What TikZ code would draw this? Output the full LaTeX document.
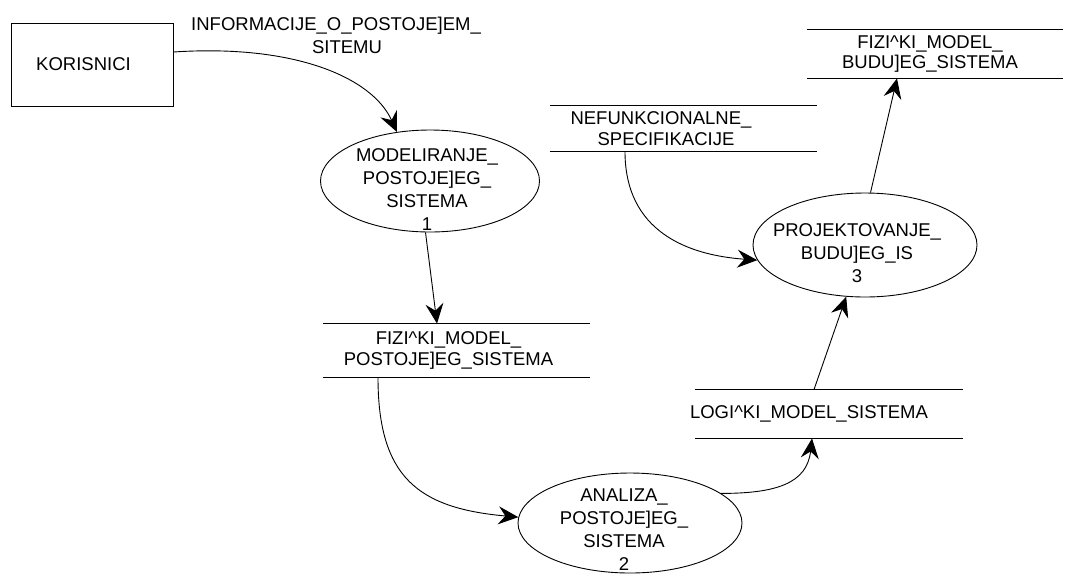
\documentclass[tikz,border=0pt]{standalone}
\usepackage{fontspec}
\setmainfont{Liberation Sans}
\usetikzlibrary{shapes.geometric,arrows.meta}
\newcommand{\dfdfont}{\fontsize{18.5}{23}\selectfont}
\newcommand{\storefont}{\fontsize{18.5}{20.5}\selectfont}
\tikzset{
  extern/.style={draw,rectangle,minimum width=162pt,minimum height=83pt,inner sep=0pt,font=\dfdfont},
  process/.style={draw,ellipse,minimum width=222pt,minimum height=102pt,inner sep=0pt},
  proctext/.style={align=center,font=\dfdfont,inner sep=0pt},
  store/.style={rectangle,minimum width=267pt,minimum height=48pt,inner sep=0pt,align=center,font=\storefont,
    append after command={(\tikzlastnode.north west) edge (\tikzlastnode.north east)
      (\tikzlastnode.south west) edge (\tikzlastnode.south east)}},
  flow/.style={-{Stealth[length=20pt,width=18pt,inset=7pt]}}
}

\begin{document}
\begin{tikzpicture}[x=1pt,y=-1pt,line width=0.9pt]
\useasboundingbox (0,0) rectangle (1065,574);
% external entity
\node[extern] (kor) at (92,64.5) {\hspace*{-17pt}KORISNICI};
\node[proctext] (infolbl) at (336,35) {INFORMACIJE\_O\_POSTOJE]EM\_\\\hspace*{22pt}SITEMU};
% processes
\node[process,minimum width=219pt] (p1) at (430,181) {};
\node[proctext] (p1t) at ([xshift=-3pt,yshift=-8.5pt]p1.center) {MODELIRANJE\_\\POSTOJE]EG\_\\SISTEMA\\1};
\node[process,minimum width=224pt,minimum height=100pt] (p2) at (630,523) {};
\node[proctext] (p2t) at ([xshift=-6pt,yshift=-7pt]p2.center) {ANALIZA\_\\POSTOJE]EG\_\\SISTEMA\\2};
\node[process,minimum width=224pt,minimum height=104pt] (p3) at (865,245) {};
\node[proctext] (p3t) at ([xshift=-8pt,yshift=-8.5pt]p3.center) {PROJEKTOVANJE\_\\BUDU]EG\_IS\\3};
% data stores
\node[store,minimum height=53pt] (s1) at (456.5,350.5) {\hspace*{-16pt}FIZI\textasciicircum KI\_MODEL\_\\\hspace*{-16pt}POSTOJE]EG\_SISTEMA};
\node[store,minimum height=45pt] (s2) at (683.5,128.5) {\hspace*{-45pt}NEFUNKCIONALNE\_\\\hspace*{-35pt}SPECIFIKACIJE};
\node[store,minimum width=256pt] (s3) at (935,54) {\hspace*{-10pt}FIZI\textasciicircum KI\_MODEL\_\\\hspace*{-10pt}BUDU]EG\_SISTEMA};
\node[store,minimum width=268pt] (s4) at (829,414) {\hspace*{-40pt}LOGI\textasciicircum KI\_MODEL\_SISTEMA};
% flows
\draw[flow] ([yshift=12.5pt]kor.east) .. controls +(120,-8) and +(-25,-55) .. (p1.124);
\draw[flow] (p1.-95) -- ([xshift=-19.5pt]s1.north);
\draw[flow] ([xshift=-78.5pt]s1.south) .. controls +(0,100) and +(-100,-9) .. (p2.177);
\draw[flow] (p2.18) .. controls +(55,0) and +(-5,45) .. ([xshift=-17pt]s4.south);
\draw[flow] ([xshift=-15pt]s4.north) -- (p3.-110);
\draw[flow] ([xshift=-58.5pt]s2.south) .. controls +(0,80) and +(-70,-5) .. (p3.188);
\draw[flow] (p3.84) -- ([xshift=-38pt]s3.south);
\end{tikzpicture}
\end{document}
